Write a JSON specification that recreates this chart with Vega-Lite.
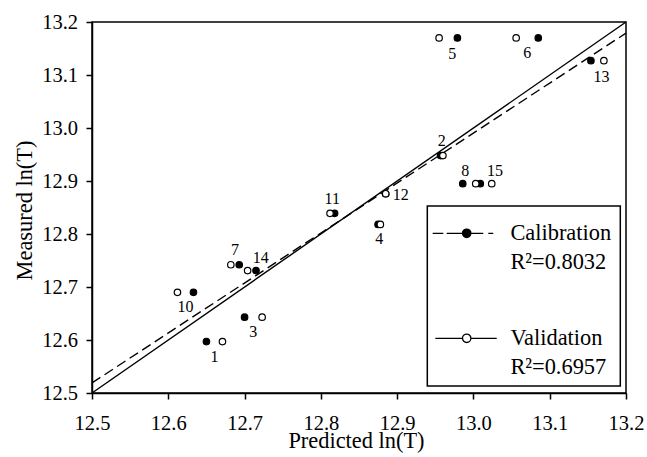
{
  "$schema": "https://vega.github.io/schema/vega-lite/v6.json",
  "width": 534,
  "height": 371,
  "autosize": "none",
  "padding": {"left": 92, "top": 22, "right": 21, "bottom": 64},
  "background": "white",
  "config": {
    "font": "Liberation Serif",
    "view": {"stroke": "black", "strokeWidth": 1.5},
    "style": {"guide-label": {"lineHeight": 28.5}},
    "legend": {"strokeWidth": 1.5},
    "axis": {
      "grid": false,
      "domainColor": "black",
      "domainWidth": 1.5,
      "tickColor": "black",
      "tickWidth": 1.5,
      "tickSize": 6,
      "labelColor": "black",
      "labelFont": "Liberation Serif",
      "labelFontSize": 20.5,
      "labelFlush": false,
      "labelOverlap": false,
      "titleColor": "black",
      "titleFont": "Liberation Serif",
      "titleFontSize": 22.4,
      "titleFontWeight": "normal"
    }
  },
  "datasets": {
    "samples": [
      {"id": "1", "set": "Calibration", "predicted": 12.650, "measured": 12.597},
      {"id": "2", "set": "Calibration", "predicted": 12.957, "measured": 12.948},
      {"id": "3", "set": "Calibration", "predicted": 12.700, "measured": 12.643},
      {"id": "4", "set": "Calibration", "predicted": 12.875, "measured": 12.818},
      {"id": "5", "set": "Calibration", "predicted": 12.979, "measured": 13.170},
      {"id": "6", "set": "Calibration", "predicted": 13.085, "measured": 13.170},
      {"id": "7", "set": "Calibration", "predicted": 12.693, "measured": 12.742},
      {"id": "8", "set": "Calibration", "predicted": 12.986, "measured": 12.895},
      {"id": "10", "set": "Calibration", "predicted": 12.633, "measured": 12.690},
      {"id": "11", "set": "Calibration", "predicted": 12.818, "measured": 12.839},
      {"id": "12", "set": "Calibration", "predicted": 12.885, "measured": 12.876},
      {"id": "13", "set": "Calibration", "predicted": 13.154, "measured": 13.127},
      {"id": "14", "set": "Calibration", "predicted": 12.715, "measured": 12.731},
      {"id": "15", "set": "Calibration", "predicted": 13.009, "measured": 12.895},
      {"id": "1", "set": "Validation", "predicted": 12.671, "measured": 12.597},
      {"id": "2", "set": "Validation", "predicted": 12.960, "measured": 12.948},
      {"id": "3", "set": "Validation", "predicted": 12.723, "measured": 12.643},
      {"id": "4", "set": "Validation", "predicted": 12.878, "measured": 12.818},
      {"id": "5", "set": "Validation", "predicted": 12.955, "measured": 13.170},
      {"id": "6", "set": "Validation", "predicted": 13.056, "measured": 13.170},
      {"id": "7", "set": "Validation", "predicted": 12.682, "measured": 12.742},
      {"id": "8", "set": "Validation", "predicted": 13.003, "measured": 12.895},
      {"id": "10", "set": "Validation", "predicted": 12.612, "measured": 12.690},
      {"id": "11", "set": "Validation", "predicted": 12.812, "measured": 12.839},
      {"id": "12", "set": "Validation", "predicted": 12.885, "measured": 12.876},
      {"id": "13", "set": "Validation", "predicted": 13.171, "measured": 13.127},
      {"id": "14", "set": "Validation", "predicted": 12.704, "measured": 12.731},
      {"id": "15", "set": "Validation", "predicted": 13.024, "measured": 12.895}
    ],
    "fits": [
      {"set": "Calibration", "predicted": 12.5, "measured": 12.519},
      {"set": "Calibration", "predicted": 13.2, "measured": 13.179},
      {"set": "Validation", "predicted": 12.5, "measured": 12.5},
      {"set": "Validation", "predicted": 13.2, "measured": 13.2}
    ]
  },
  "encoding": {
    "x": {
      "field": "predicted",
      "type": "quantitative",
      "scale": {"domain": [12.5, 13.2], "nice": false, "zero": false},
      "axis": {
        "title": "Predicted ln(T)",
        "values": [12.5, 12.6, 12.7, 12.8, 12.9, 13.0, 13.1, 13.2],
        "format": ".1f",
        "labelPadding": 14,
        "titleBaseline": "alphabetic",
        "titleX": 264,
        "titleY": 54
      }
    },
    "y": {
      "field": "measured",
      "type": "quantitative",
      "scale": {"domain": [12.5, 13.2], "nice": false, "zero": false},
      "axis": {
        "title": "Measured ln(T)",
        "values": [12.5, 12.6, 12.7, 12.8, 12.9, 13.0, 13.1, 13.2],
        "format": ".1f",
        "labelPadding": 8.5,
        "titleAngle": 270,
        "titleBaseline": "alphabetic",
        "titleAlign": "center",
        "titleX": -61,
        "titleY": 188
      }
    }
  },
  "layer": [
    {
      "data": {"name": "fits"},
      "transform": [{"filter": {"field": "set", "equal": "Calibration"}}],
      "mark": {"type": "line", "color": "black", "strokeWidth": 1.4, "strokeDash": [10, 5]},
      "encoding": {}
    },
    {
      "data": {"name": "fits"},
      "transform": [{"filter": {"field": "set", "equal": "Validation"}}],
      "mark": {"type": "line", "color": "black", "strokeWidth": 1.4},
      "encoding": {}
    },
    {
      "data": {"name": "samples"},
      "transform": [{"filter": {"field": "set", "equal": "Calibration"}}],
      "mark": {"type": "point", "shape": "circle", "filled": true, "fill": "black", "size": 42, "stroke": "black", "strokeWidth": 1.2, "opacity": 1}
    },
    {
      "data": {"name": "samples"},
      "transform": [{"filter": {"field": "set", "equal": "Validation"}}],
      "mark": {"type": "point", "shape": "circle", "filled": true, "fill": "white", "size": 42, "stroke": "black", "strokeWidth": 1.2, "opacity": 1}
    },
    {
      "data": {"name": "samples"},
      "transform": [{"filter": {"field": "set", "equal": "key only"}}],
      "mark": {"type": "point", "filled": true, "stroke": "black", "strokeWidth": 1.3},
      "encoding": {
        "fill": {
          "field": "set",
          "type": "nominal",
          "scale": {"domain": ["Calibration", "Validation"], "range": ["black", "white"]},
          "legend": {
            "title": null,
            "orient": "none",
            "legendX": 335.3,
            "legendY": 184,
            "padding": 8,
            "strokeColor": "black",
            "fillColor": "white",
            "symbolSize": 2560,
            "symbolOffset": 5.4,
            "symbolStrokeWidth": 1.3,
            "symbolStrokeColor": "black",
            "symbolFillColor": "black",
            "symbolOpacity": 1,
            "labelFont": "Liberation Serif",
            "labelFontSize": 22.4,
            "labelColor": "black",
            "labelBaseline": "alphabetic",
            "labelOffset": 17.7,
            "labelLimit": 220,
            "rowPadding": 46,
            "labelExpr": "datum.value === 'Calibration' ? ['Calibration', 'R²=0.8032'] : ['Validation', 'R²=0.6957']"
          }
        },
        "shape": {
          "field": "set",
          "type": "nominal",
          "scale": {
            "domain": ["Calibration", "Validation"],
            "range": [
              "M-1.344,-0.265H-0.925M-0.791,-0.265H-0.166M0.166,-0.265H0.656M0.854,-0.265H1.051M0.166,-0.265A0.166,0.166 0 1,1 -0.166,-0.265A0.166,0.166 0 1,1 0.166,-0.265ZM5.62,-0.265",
              "M-1.241,-0.265H-0.166M0.166,-0.265H1.186M0.166,-0.265A0.166,0.166 0 1,1 -0.166,-0.265A0.166,0.166 0 1,1 0.166,-0.265ZM5.62,-0.265"
            ]
          },
          "legend": {
            "title": null,
            "orient": "none",
            "legendX": 335.3,
            "legendY": 184,
            "padding": 8,
            "strokeColor": "black",
            "fillColor": "white",
            "symbolSize": 2560,
            "symbolOffset": 5.4,
            "symbolStrokeWidth": 1.3,
            "symbolStrokeColor": "black",
            "symbolFillColor": "black",
            "symbolOpacity": 1,
            "labelFont": "Liberation Serif",
            "labelFontSize": 22.4,
            "labelColor": "black",
            "labelBaseline": "alphabetic",
            "labelOffset": 17.7,
            "labelLimit": 220,
            "rowPadding": 46,
            "labelExpr": "datum.value === 'Calibration' ? ['Calibration', 'R²=0.8032'] : ['Validation', 'R²=0.6957']"
          }
        }
      }
    },
    {
      "data": {"name": "samples"},
      "transform": [
        {"aggregate": [{"op": "mean", "field": "predicted", "as": "predicted"}, {"op": "mean", "field": "measured", "as": "measured"}], "groupby": ["id"]},
        {"filter": {"field": "id", "oneOf": ["1", "3", "10", "4", "6"]}}
      ],
      "mark": {"type": "text", "font": "Liberation Serif", "fontSize": 16, "color": "black", "align": "center", "baseline": "middle", "dy": 15},
      "encoding": {"text": {"field": "id"}}
    },
    {
      "data": {"name": "samples"},
      "transform": [
        {"aggregate": [{"op": "mean", "field": "predicted", "as": "predicted"}, {"op": "mean", "field": "measured", "as": "measured"}], "groupby": ["id"]},
        {"filter": {"field": "id", "oneOf": ["5", "13"]}}
      ],
      "mark": {"type": "text", "font": "Liberation Serif", "fontSize": 16, "color": "black", "align": "center", "baseline": "middle", "dx": 4, "dy": 16},
      "encoding": {"text": {"field": "id"}}
    },
    {
      "data": {"name": "samples"},
      "transform": [
        {"aggregate": [{"op": "mean", "field": "predicted", "as": "predicted"}, {"op": "mean", "field": "measured", "as": "measured"}], "groupby": ["id"]},
        {"filter": {"field": "id", "oneOf": ["7", "2", "11"]}}
      ],
      "mark": {"type": "text", "font": "Liberation Serif", "fontSize": 16, "color": "black", "align": "center", "baseline": "middle", "dy": -14.5},
      "encoding": {"text": {"field": "id"}}
    },
    {
      "data": {"name": "samples"},
      "transform": [
        {"aggregate": [{"op": "mean", "field": "predicted", "as": "predicted"}, {"op": "mean", "field": "measured", "as": "measured"}], "groupby": ["id"]},
        {"filter": {"field": "id", "oneOf": ["14", "15"]}}
      ],
      "mark": {"type": "text", "font": "Liberation Serif", "fontSize": 16, "color": "black", "align": "center", "baseline": "middle", "dx": 9, "dy": -13},
      "encoding": {"text": {"field": "id"}}
    },
    {
      "data": {"name": "samples"},
      "transform": [
        {"aggregate": [{"op": "mean", "field": "predicted", "as": "predicted"}, {"op": "mean", "field": "measured", "as": "measured"}], "groupby": ["id"]},
        {"filter": {"field": "id", "oneOf": ["8"]}}
      ],
      "mark": {"type": "text", "font": "Liberation Serif", "fontSize": 16, "color": "black", "align": "center", "baseline": "middle", "dx": -4, "dy": -12.5},
      "encoding": {"text": {"field": "id"}}
    },
    {
      "data": {"name": "samples"},
      "transform": [
        {"aggregate": [{"op": "mean", "field": "predicted", "as": "predicted"}, {"op": "mean", "field": "measured", "as": "measured"}], "groupby": ["id"]},
        {"filter": {"field": "id", "oneOf": ["12"]}}
      ],
      "mark": {"type": "text", "font": "Liberation Serif", "fontSize": 16, "color": "black", "align": "center", "baseline": "middle", "dx": 15, "dy": 1},
      "encoding": {"text": {"field": "id"}}
    }
  ]
}
